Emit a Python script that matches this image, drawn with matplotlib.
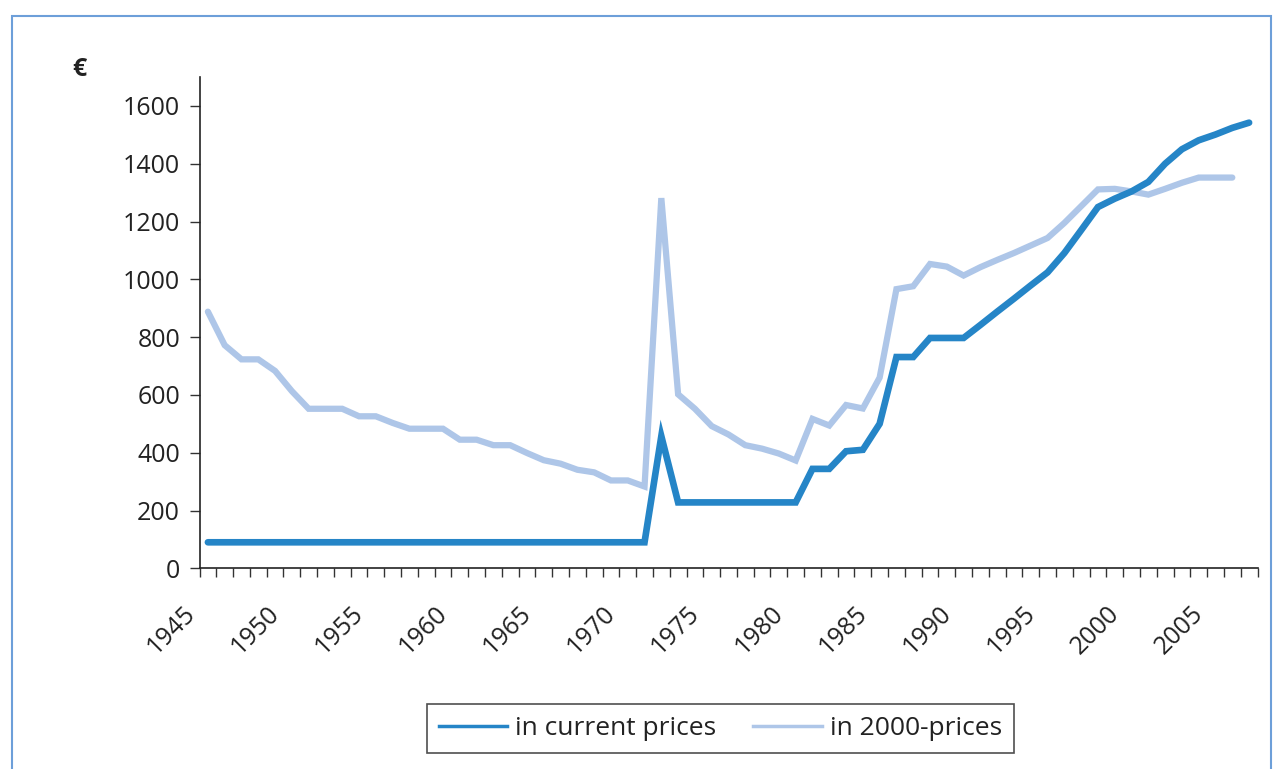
import numpy as np
import matplotlib
matplotlib.use('Agg')
import matplotlib.pyplot as plt
from matplotlib.lines import Line2D
from matplotlib.patches import Rectangle
from matplotlib.transforms import ScaledTranslation

years = list(range(1945, 2008))

# monthly amount, current prices
current_prices = [90] * 27 + [457] + [228] * 8 + [344, 344, 405, 410, 500, 731, 731,
                  797, 797, 797, 842, 888, 933, 979, 1024, 1091, 1170, 1250, 1279,
                  1304, 1337, 1400, 1450, 1481, 1501, 1524, 1542]

# same amount in 2000-prices (no value for 2007)
prices_2000 = [888, 772, 723, 723, 683, 613, 552, 552, 552, 526, 526, 503, 483, 483,
               483, 445, 445, 426, 426, 399, 374, 362, 341, 332, 304, 304, 283, 1281,
               602, 552, 492, 463, 426, 414, 397, 373, 517, 494, 565, 553, 660, 966,
               976, 1053, 1044, 1013, 1042, 1067, 1091, 1117, 1143, 1195, 1253, 1311,
               1313, 1304, 1293, 1313, 1334, 1352, 1352, 1352, np.nan]

dark_blue = '#2585c7'
light_blue = '#aec6e8'

plt.rcParams['font.family'] = ['Open Sans', 'DejaVu Sans']

fig = plt.figure(figsize=(12.75, 7.69), dpi=100)
ax = fig.add_axes([199.5 / 1275, 1 - 568.3 / 769, (1257.5 - 199.5) / 1275, (568.3 - 77) / 769])

x = np.arange(len(years))
ax.plot(x, prices_2000, color=light_blue, lw=4.5, solid_capstyle='round', solid_joinstyle='miter')
ax.plot(x, current_prices, color=dark_blue, lw=4.8, solid_capstyle='round', solid_joinstyle='miter')

ax.set_xlim(-0.5, len(years) - 0.5)
ax.set_ylim(0, 1700)
ax.set_yticks(range(0, 1601, 200))

# tick marks on the category borders, labels every 5 years
ax.set_xticks(np.arange(-0.5, len(years), 1))
ax.set_xticklabels([])
ax.set_xticks(x[::5], [str(y) for y in years[::5]], minor=True)
ax.tick_params(axis='x', which='major', direction='out', length=6.5, width=1, color='#333333')
ax.tick_params(axis='x', which='minor', length=0, pad=30, labelsize=18, labelcolor='#222222')
ax.tick_params(axis='y', direction='out', length=7, width=1, color='#333333', pad=7,
               labelsize=18, labelcolor='#222222')
for lab in ax.get_xticklabels(minor=True):
    lab.set_rotation(45)
    lab.set_ha('right')
    lab.set_va('center')
    lab.set_rotation_mode('anchor')
    lab.set_transform(lab.get_transform() + ScaledTranslation(-0.16, 0, fig.dpi_scale_trans))

for side in ['top', 'right']:
    ax.spines[side].set_visible(False)
for side in ['left', 'bottom']:
    ax.spines[side].set_color('#222222')
    ax.spines[side].set_linewidth(1.2)

fig.text(79 / 1275, 1 - 70 / 769, '€', fontsize=18, fontweight='bold', ha='center', va='center', color='#222222')

handles = [Line2D([], [], color=dark_blue, lw=2.5), Line2D([], [], color=light_blue, lw=2.5)]
leg = fig.legend(handles, ['in current prices', 'in 2000-prices'], loc='center',
                 bbox_to_anchor=(720.5 / 1275, 1 - 728.5 / 769), ncol=2, fontsize=19,
                 frameon=True, fancybox=False, edgecolor='#222222', handlelength=2.6,
                 handletextpad=0.3, columnspacing=1.4, borderpad=0.46)
leg.get_frame().set_linewidth(1.2)
for t in leg.get_texts():
    t.set_color('#222222')

# outer frame of the figure
fig.patches.append(Rectangle((12 / 1275, -0.1), (1271 - 12) / 1275, 1.1 - 15.5 / 769,
                             transform=fig.transFigure, fill=False, edgecolor='#6d9fd9', lw=1.5))

fig.savefig('out.png', dpi=100)
